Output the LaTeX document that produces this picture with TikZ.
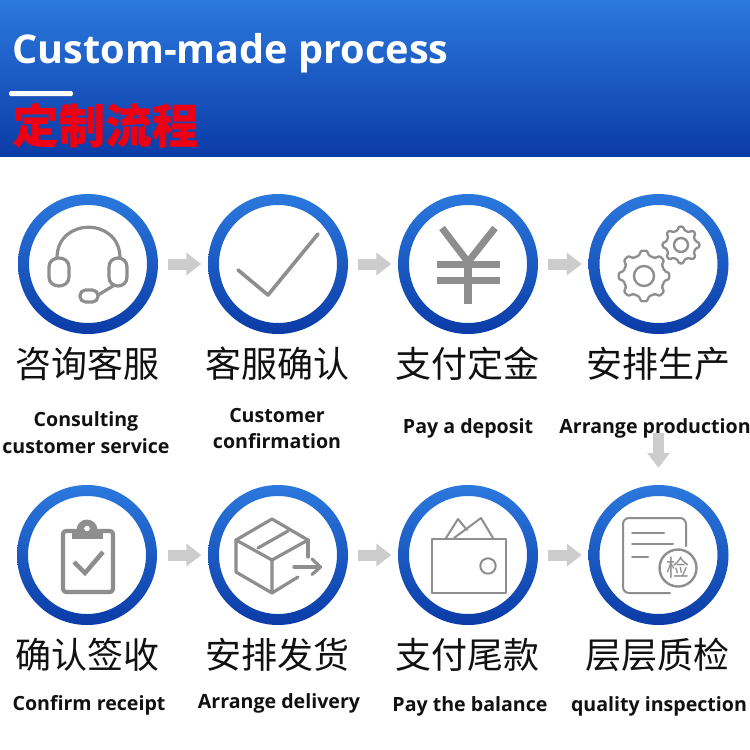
\documentclass[tikz,border=0pt]{standalone}
\usepackage{fontspec}
\setmainfont{Open Sans}
\newfontfamily\cjk[BoldFeatures={FakeBold=0.4}]{Noto Sans CJK SC}
\usetikzlibrary{arrows.meta}
\definecolor{bluetop}{HTML}{2B79DE}
\definecolor{bluebot}{HTML}{0B3BA6}
\definecolor{redtitle}{HTML}{EE0014}
\definecolor{icongray}{HTML}{8E8E8E}
\definecolor{flowgray}{HTML}{CCCCCC}
\definecolor{inktext}{HTML}{111111}
\newcommand{\ringat}[3]{%
  \path[even odd rule,top color=bluetop,bottom color=bluebot] (#2,#3) circle[radius=70pt] circle[radius=59pt];
  \node[ringnode] (#1) at (#2,#3) {};}
\newcommand{\gearat}[5]{%
  \pgfmathsetmacro{\gd}{360/#5}
  \draw[iconthin,line width=2.3pt,rounded corners=1.2pt] ({-0.30*\gd}:#4)
    \foreach \i [evaluate=\i as \ga using \i*\gd] in {0,...,7} {
      -- ({\ga-0.30*\gd}:#4) -- ({\ga-0.15*\gd}:#3) -- ({\ga+0.15*\gd}:#3) -- ({\ga+0.30*\gd}:#4)
    } -- cycle;}
\tikzset{
  ringnode/.style={circle,minimum size=140pt,inner sep=0pt},
  flow/.style={draw=flowgray,line width=11pt,-{Triangle[length=15pt,width=22pt,fill=flowgray]},shorten <=10pt,shorten >=6.5pt},
  cnlabel/.style={anchor=base,inner sep=0pt,text=inktext,font=\cjk\fontsize{36pt}{36pt}\selectfont},
  enlabel/.style={anchor=base,inner sep=0pt,text=inktext,font=\bfseries\fontsize{19.6pt}{20pt}\selectfont},
  iconthin/.style={draw=icongray,line width=2pt,line join=round,line cap=round},
  iconmid/.style={draw=icongray,line width=3.2pt,line join=round,line cap=round},
  iconwide/.style={draw=icongray,line width=4.2pt,line join=round,line cap=round}
}
\begin{document}
\begin{tikzpicture}[x=1pt,y=-1pt]
\useasboundingbox (0,0) rectangle (750,750);
\fill[white] (0,0) rectangle (750,750);
% header
\shade[top color=bluetop,bottom color=bluebot] (0,0) rectangle (750,156.5);
\node[anchor=base west,inner sep=0pt,text=white,font=\bfseries\fontsize{39.6pt}{40pt}\selectfont] (title) at (12.5,63) {Custom-made process};
\fill[white,rounded corners=1.5pt] (9,91) rectangle (73,96);
\node[anchor=base west,inner sep=0pt,text=redtitle,font=\cjk\bfseries\fontsize{46.5pt}{48pt}\selectfont] (subtitle) at (12,143) {定制流程};
% rings
\ringat{c1}{88}{264}\ringat{c2}{278}{264}\ringat{c3}{468}{264}\ringat{c4}{658.5}{264}
\ringat{c5}{87}{555}\ringat{c6}{278}{555}\ringat{c7}{468}{555}\ringat{c8}{658.5}{555}
% connectors
\draw[flow] (c1) -- (c2);
\draw[flow] (c2) -- (c3);
\draw[flow] (c3) -- (c4);
\draw[flow,shorten <=11pt] (c5) -- (c6);
\draw[flow] (c6) -- (c7);
\draw[flow] (c7) -- (c8);
\coordinate (vstart) at (658.5,433);
\draw[flow,shorten <=0pt,shorten >=17pt] (vstart) -- (c8);
% headset
\draw[iconmid] (57,258) .. controls (57,217) and (120,217) .. (120,258);
\draw[iconmid] (49,267) .. controls (49,255) and (69,255) .. (69,267) -- (69,277) .. controls (69,289) and (49,289) .. (49,277) -- cycle;
\draw[iconmid] (109,267) .. controls (109,255) and (127,255) .. (127,267) -- (127,277) .. controls (127,289) and (109,289) .. (109,277) -- cycle;
\draw[iconmid,rounded corners=5.5pt] (80,290) rectangle (98,302);
\draw[iconmid] (98,295) -- (113,286);
% check
\draw[draw=icongray,line width=3.6pt,line join=round,line cap=round] (238,270) -- (268,295) -- (318,234);
% yen
\draw[draw=icongray,line width=7pt] (442,228) -- (468,262) -- (495,228);
\fill[icongray] (437,261) rectangle (500,268);
\fill[icongray] (437,277) rectangle (500,284);
\fill[icongray] (464,262) rectangle (472,304);
% gears
\begin{scope}[shift={(644,276)}]
\gearat{0}{0}{25.5}{21}{8}
\draw[iconthin,line width=2.4pt] (0,0) circle[radius=10pt];
\end{scope}
\begin{scope}[shift={(681,245)}]
\gearat{0}{0}{18.5}{15}{8}
\draw[iconthin,line width=2.4pt] (0,0) circle[radius=7pt];
\end{scope}
% clipboard
\draw[iconwide,rounded corners=3pt] (63,531) rectangle (113,592);
\fill[icongray] (72,530) rectangle (103,539);
\fill[icongray] (76.5,530) arc[start angle=180,end angle=0,radius=10.5pt] -- cycle;
\fill[white] (87,528.5) circle[radius=2.8pt];
\draw[draw=icongray,line width=4.5pt,line join=miter] (74,562) -- (85,573) -- (103,552);
% box
\draw[iconmid] (236,540) -- (272,519) -- (308,540) -- (272,560) -- cycle;
\draw[iconmid] (236,540) -- (236,572) -- (272,593) -- (272,560);
\draw[iconmid] (258,548) -- (288,531);
\draw[iconmid] (308,540) -- (308,557);
\draw[iconmid] (272,593) -- (298,577);
\draw[iconmid] (294,567) -- (320,567);
\draw[iconmid] (312,559) -- (320.5,567) -- (312,574.5);
% wallet
\draw[iconthin] (432,539) rectangle (506,593);
\draw[iconthin] (488,566) circle[radius=7.7pt];
\draw[iconthin] (446,538) -- (458,519) -- (467,530);
\draw[iconthin] (454,538) -- (481,518) -- (493,538);
% inspection sheet
\draw[iconthin,rounded corners=6pt] (670,593) -- (623,593) -- (623,518) -- (686,518) -- (686,546);
\draw[iconthin] (632,533) -- (664,533);
\draw[iconthin] (632,544) -- (673,544);
\draw[iconthin] (632,557) -- (648,557);
\node[circle,draw=icongray,line width=2.4pt,minimum size=37pt,inner sep=0pt,text=icongray,font=\cjk\fontsize{23pt}{24pt}\selectfont] (jian) at (678,568) {检};
% Chinese labels
\node[cnlabel] (a1) at (88,377) {咨询客服};
\node[cnlabel] (a2) at (277,377) {客服确认};
\node[cnlabel] (a3) at (467,377) {支付定金};
\node[cnlabel] (a4) at (658.5,377) {安排生产};
\node[cnlabel] (a5) at (88,668) {确认签收};
\node[cnlabel] (a6) at (277,668) {安排发货};
\node[cnlabel] (a7) at (467,668) {支付尾款};
\node[cnlabel] (a8) at (657.5,668) {层层质检};
% English labels
\node[enlabel] (b1a) at (86,426) {Consulting};
\node[enlabel] (b1b) at (86,453) {customer service};
\node[enlabel] (b2a) at (277,422) {Customer};
\node[enlabel] (b2b) at (277,448) {confirmation};
\node[enlabel] (b3) at (468,433) {Pay a deposit};
\node[enlabel] (b4) at (655,433) {Arrange production};
\node[enlabel] (b5) at (89,710) {Confirm receipt};
\node[enlabel] (b6) at (279,708.5) {Arrange delivery};
\node[enlabel] (b7) at (470,711) {Pay the balance};
\node[enlabel] (b8) at (659,711) {quality inspection};
\end{tikzpicture}
\end{document}
